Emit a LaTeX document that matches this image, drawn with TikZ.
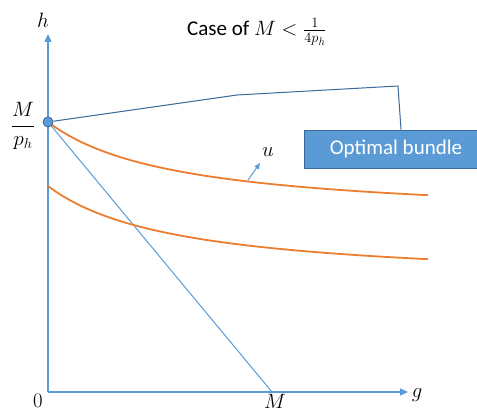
\documentclass[tikz,border=0pt]{standalone}
\usepackage{fontspec}
\setmainfont{Carlito}
\usetikzlibrary{arrows.meta}
\definecolor{axisblue}{HTML}{5B9BD5}
\definecolor{darkblue}{HTML}{3A6A9A}
\definecolor{curveorange}{HTML}{ED7D31}
\begin{document}
\begin{tikzpicture}[x=1pt,y=-1pt,
  axis/.style={draw=axisblue, line width=1.4pt, -{Triangle[width=7pt,length=8pt]}},
  lbl/.style={font=\fontsize{21}{25}\selectfont, inner sep=0pt},
  icurve/.style={draw=curveorange, line width=1.8pt},
  budget/.style={draw=axisblue, line width=1pt},
  callout/.style={draw=darkblue, line width=1pt},
  uarrow/.style={draw=axisblue, line width=1pt, -{Triangle[width=5pt,length=6pt]}},
  boxstyle/.style={fill=axisblue, draw=darkblue, line width=0.8pt, text=white, minimum width=184pt, minimum height=38pt, font=\fontsize{21}{25}\selectfont}]
\clip (0,0) rectangle (477,412);
% axes
\coordinate (O) at (48,392);
\coordinate (ytip) at (48,34);
\coordinate (xtip) at (408,392);
\draw[axis] (O) -- (ytip);
\draw[axis] (O) -- (xtip);
% labels
\node[lbl] (hlab) at (43,20) {$h$};
\node[lbl] (glab) at (417,395) {$g$};
\node[lbl] (zerolab) at (38,401) {$0$};
\node[lbl] (Mlab) at (275,401) {$M$};
\node[lbl] (Mph) at (23,126) {$\displaystyle\frac{M}{p_h}$};
\node[lbl, anchor=west] (title) at (187,32) {Case of $M<\frac{1}{4p_h}$};
% budget line
\coordinate (dotc) at (48,122);
\coordinate (Mx) at (272,392);
\draw[budget] (dotc) -- (Mx);
% indifference curves
\draw[icurve] plot[domain=0:380, samples=80] ({48+\x},{220.2-12764/(\x+130)});
\draw[icurve] plot[domain=0:380, samples=80] ({48+\x},{284.2-12764/(\x+130)});
% u arrow
\coordinate (ua) at (248,180);
\node[lbl] (ulab) at (268,152) {$u$};
\draw[uarrow] (ua) -- (260,163);
% callout
\node[boxstyle] (box) at (396,149) {Optimal bundle};
\coordinate (c1) at (237,95);
\coordinate (c2) at (398,86);
\node[circle, fill=axisblue, draw=darkblue, line width=0.8pt, minimum size=10pt, inner sep=0pt] (dot) at (dotc) {};
\draw[callout] (dot) -- (c1) -- (c2) -- ([xshift=5pt]box.north);
\end{tikzpicture}
\end{document}
